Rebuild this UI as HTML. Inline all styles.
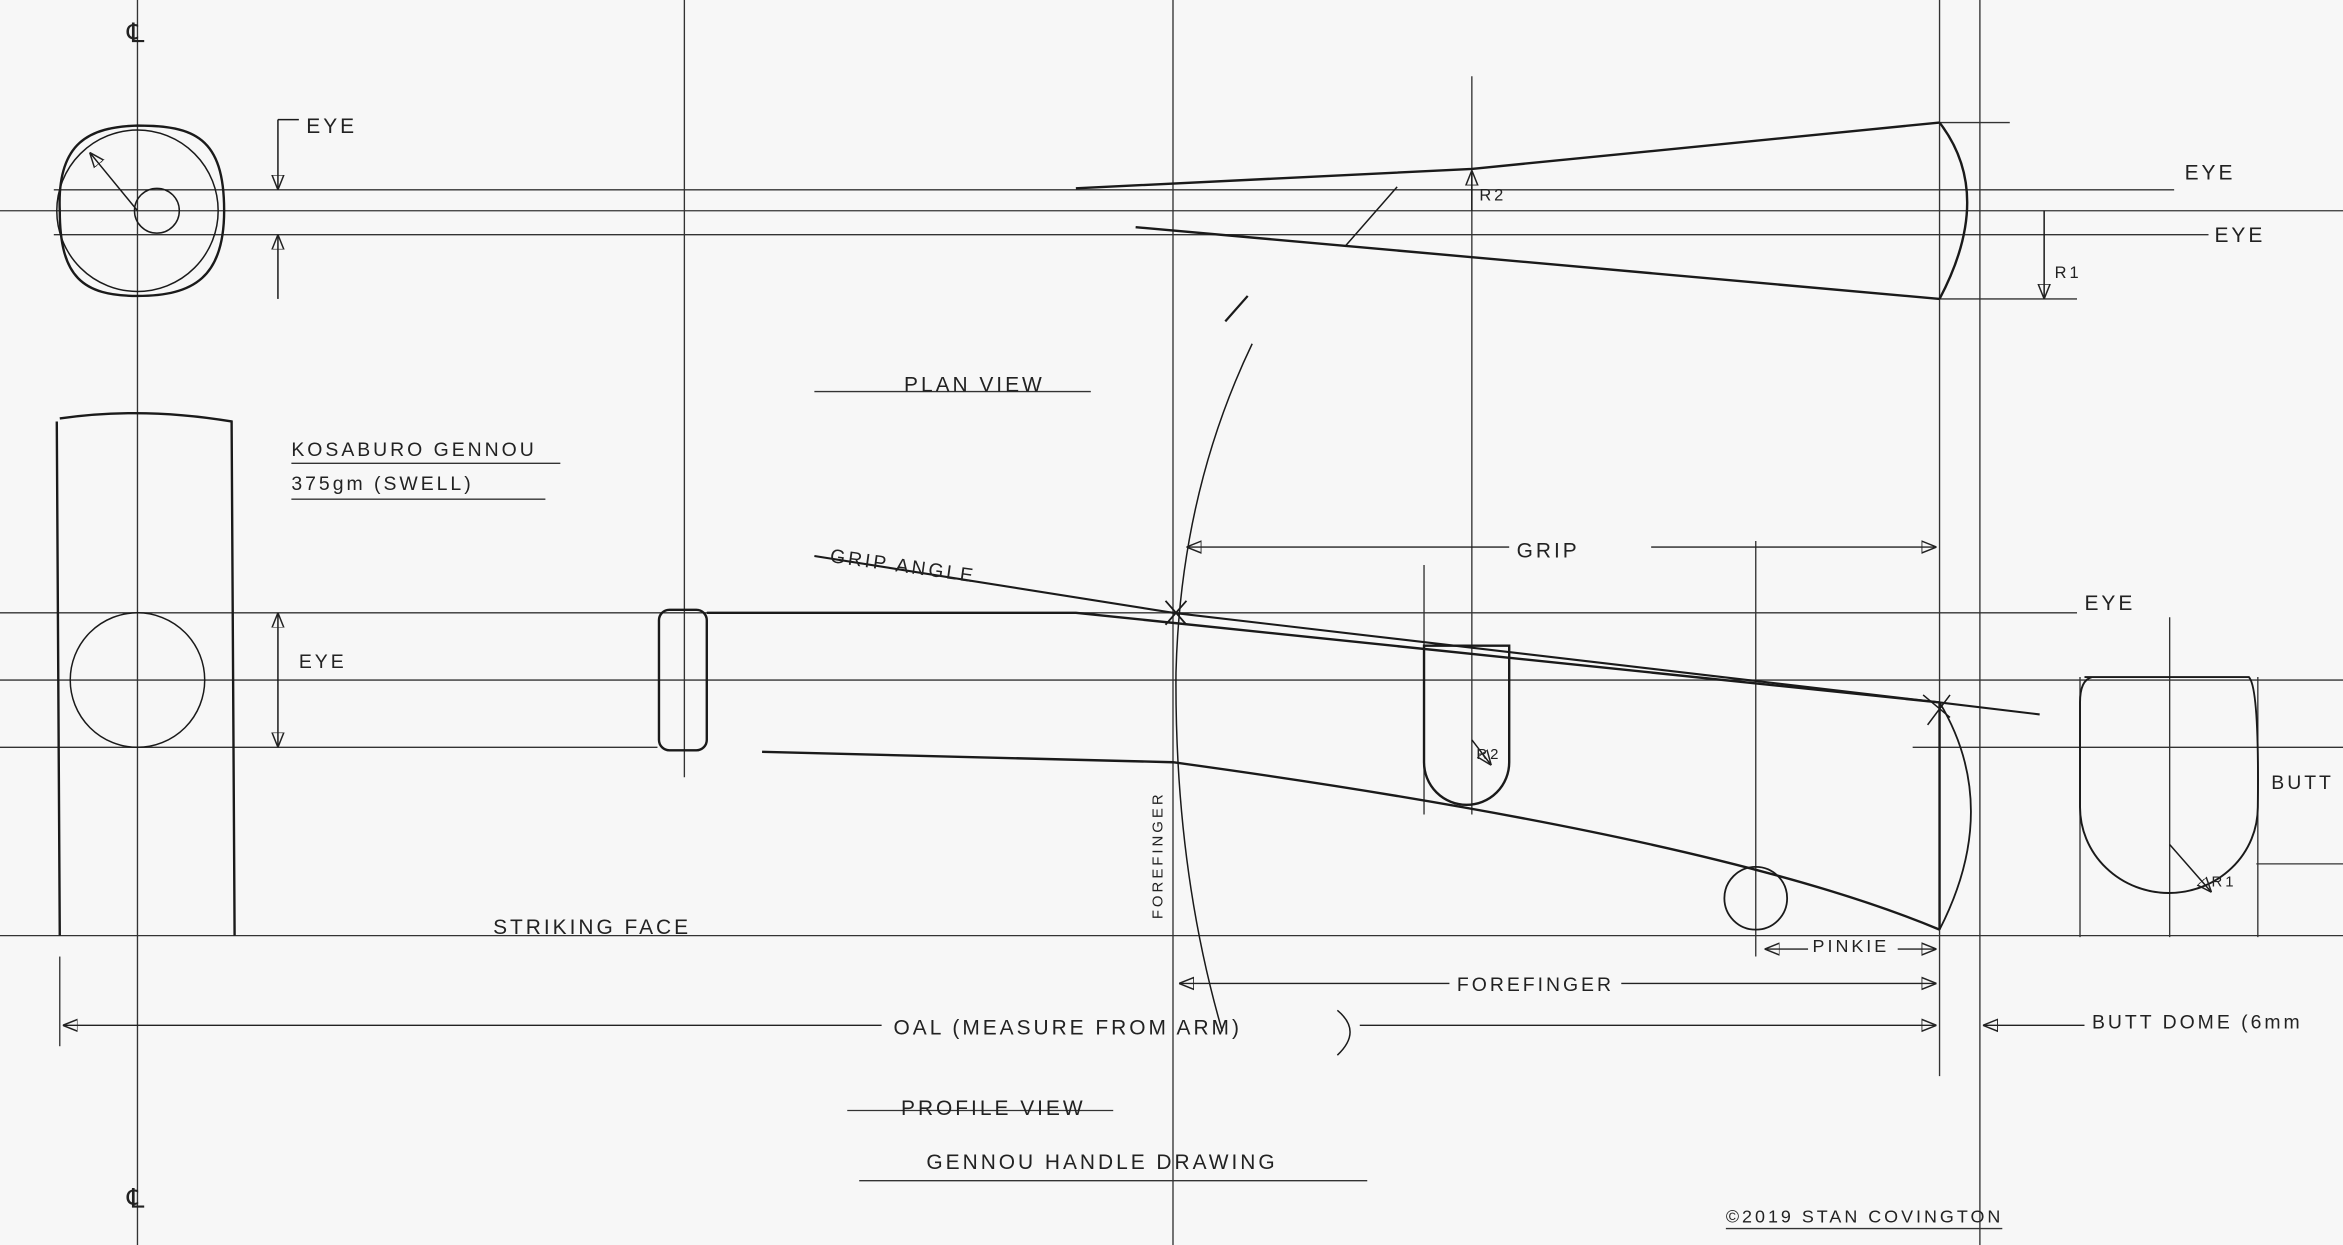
<!DOCTYPE html>
<html><head><meta charset="utf-8"><style>
html,body{margin:0;padding:0;background:#f7f7f7;}
svg{display:block}
text{font-family:"Liberation Sans",sans-serif;fill:#222;letter-spacing:2px}
</style></head><body>
<svg width="2343" height="1245" viewBox="0 0 1568 833" preserveAspectRatio="none" xmlns="http://www.w3.org/2000/svg">
<defs><marker id="a" viewBox="0 0 10 10" refX="10" refY="5" markerWidth="10" markerHeight="10" orient="auto-start-reverse" markerUnits="userSpaceOnUse"><path d="M0,1 L10,5 L0,9 Z" fill="none" stroke="#222" stroke-width="1"/></marker></defs>
<rect width="1568" height="833" fill="#f7f7f7"/>
<g stroke="#333" stroke-width="0.9" fill="none">
<!-- construction lines -->
<line x1="36" y1="127" x2="1455" y2="127"/>
<line x1="0" y1="141" x2="1568" y2="141"/>
<line x1="36" y1="157" x2="1478" y2="157"/>
<line x1="0" y1="410" x2="1390" y2="410"/>
<line x1="0" y1="455" x2="1568" y2="455"/>
<line x1="0" y1="500" x2="440" y2="500"/>
<line x1="1280" y1="500" x2="1568" y2="500"/>
<line x1="0" y1="626" x2="1568" y2="626"/>
<line x1="1510" y1="578" x2="1568" y2="578"/>
<line x1="92" y1="0" x2="92" y2="833"/>
<line x1="458" y1="0" x2="458" y2="520"/>
<line x1="785" y1="0" x2="785" y2="833"/>
<line x1="1298" y1="0" x2="1298" y2="720"/>
<line x1="1325" y1="0" x2="1325" y2="833"/>
<line x1="985" y1="51" x2="985" y2="545"/>
<line x1="953" y1="378" x2="953" y2="545"/>
<line x1="1175" y1="362" x2="1175" y2="640"/>
<line x1="1392" y1="453" x2="1392" y2="627"/>
<line x1="1511" y1="453" x2="1511" y2="627"/>
<line x1="1452" y1="413" x2="1452" y2="627"/>
<line x1="40" y1="640" x2="40" y2="700"/>
<line x1="1298" y1="82" x2="1345" y2="82"/>
<line x1="1298" y1="200" x2="1390" y2="200"/>
<line x1="545" y1="262" x2="730" y2="262"/>
<line x1="567" y1="743" x2="745" y2="743"/>
<line x1="575" y1="790" x2="915" y2="790"/>
<line x1="195" y1="310" x2="375" y2="310"/>
<line x1="195" y1="334" x2="365" y2="334"/>
<line x1="1155" y1="822" x2="1340" y2="822"/>
</g>
<g stroke="#1a1a1a" stroke-width="1.6" fill="none">
<!-- top view head -->
<path d="M40,141 C38,95 60,85 92,84 C130,84 150,92 150,141 C150,185 130,198 92,198 C55,198 40,185 40,141 Z"/>
<circle cx="92" cy="141" r="54" stroke-width="1"/>
<circle cx="105" cy="141" r="15" stroke-width="1"/>
<line x1="92" y1="141" x2="60" y2="102" stroke-width="1" marker-end="url(#a)"/>
<path d="M186,80 L186,127" stroke-width="1" marker-end="url(#a)"/><line x1="186" y1="80" x2="200" y2="80" stroke-width="1"/>
<path d="M186,200 L186,157" stroke-width="1" marker-end="url(#a)"/>
<!-- plan view handle -->
<path d="M720,126 L985,113 L1298,82"/>
<path d="M760,152 L1298,200"/>
<path d="M1298,82 Q1335,130 1298,200"/>
<line x1="900" y1="165" x2="935" y2="125" stroke-width="1"/>
<path d="M985,141 L985,114" stroke-width="1" marker-end="url(#a)"/>
<path d="M1368,141 L1368,200" stroke-width="1" marker-end="url(#a)"/>
<line x1="820" y1="215" x2="835" y2="198" stroke-width="1.5"/>
<!-- profile head -->
<path d="M40,280 Q95,272 155,282 L157,626 M38,282 L40,626"/>
<circle cx="92" cy="455" r="45" stroke-width="1"/>
<path d="M186,455 L186,410" stroke-width="1" marker-end="url(#a)"/>
<path d="M186,455 L186,500" stroke-width="1" marker-end="url(#a)"/>
<rect x="441" y="408" width="32" height="94" rx="7"/>
<!-- handle profile -->
<path d="M545,372 L785,410 L1298,470 L1365,478" stroke-width="1.4"/>
<path d="M473,410 L720,410 L1298,470"/>
<path d="M510,503 L785,510 Q1150,560 1298,622"/>
<line x1="1298" y1="470" x2="1298" y2="622"/>
<path d="M1298,470 Q1340,540 1298,622" stroke-width="1.2"/>
<path d="M780,402 L794,418 M794,402 L780,418" stroke-width="1.2"/>
<path d="M1287,465 L1305,480 M1305,465 L1290,485" stroke-width="1"/>
<path d="M953,432 L1010,432 L1010,510 A28.5,28.5 0 0 1 953,510 Z"/>
<circle cx="1175" cy="601" r="21" stroke-width="1.2"/>
<line x1="985" y1="495" x2="998" y2="512" stroke-width="1" marker-end="url(#a)"/>
<!-- butt dome -->
<path d="M1395,453 L1505,453 Q1512,460 1511,540 A59,57 0 0 1 1392,540 L1392,470 Q1392,455 1400,453" stroke-width="1.3"/>
<line x1="1452" y1="565" x2="1480" y2="597" stroke-width="1" marker-end="url(#a)"/>
<!-- forefinger arc -->
<path d="M838,230 Q790,330 787,450 Q786,580 818,690" stroke-width="1"/>
<path d="M895,676 Q912,690 895,706" stroke-width="1"/>
</g>
<g stroke="#222" stroke-width="0.9" fill="none">
<path d="M1010,366 L794,366" marker-end="url(#a)"/>
<path d="M1105,366 L1296,366" marker-end="url(#a)"/>
<path d="M970,658 L789,658" marker-end="url(#a)"/>
<path d="M1085,658 L1296,658" marker-end="url(#a)"/>
<path d="M590,686 L42,686" marker-end="url(#a)"/>
<path d="M910,686 L1296,686" marker-end="url(#a)"/>
<path d="M1395,686 L1327,686" marker-end="url(#a)"/>
<path d="M1210,635 L1181,635" marker-end="url(#a)"/>
<path d="M1270,635 L1296,635" marker-end="url(#a)"/>
</g>
<g font-size="14">
<text x="205" y="89">EYE</text>
<text x="605" y="262">PLAN VIEW</text>
<text x="195" y="305" font-size="13">KOSABURO GENNOU</text>
<text x="195" y="328" font-size="13">375gm (SWELL)</text>
<text x="555" y="376" font-size="13" transform="rotate(8 555 376)">GRIP ANGLE</text>
<text x="1015" y="373">GRIP</text>
<text x="200" y="447" font-size="13">EYE</text>
<text x="1395" y="408">EYE</text>
<text x="1462" y="120">EYE</text>
<text x="1482" y="162">EYE</text>
<text x="990" y="134" font-size="11">R2</text>
<text x="1375" y="186" font-size="11">R1</text>
<text x="988" y="508" font-size="10">R2</text>
<text x="1480" y="593" font-size="10">R1</text>
<text x="330" y="625">STRIKING FACE</text>
<text x="778" y="615" font-size="10" transform="rotate(-90 778 615)">FOREFINGER</text>
<text x="1213" y="637" font-size="12">PINKIE</text>
<text x="975" y="663" font-size="13">FOREFINGER</text>
<text x="598" y="692">OAL (MEASURE FROM ARM)</text>
<text x="1400" y="688" font-size="13">BUTT DOME (6mm</text>
<text x="1520" y="528" font-size="13">BUTT</text>
<text x="603" y="746">PROFILE VIEW</text>
<text x="620" y="782">GENNOU HANDLE DRAWING</text>
<text x="1155" y="818" font-size="12">©2019 STAN COVINGTON</text>
<text x="85" y="28" font-size="18">℄</text>
<text x="85" y="808" font-size="18">℄</text>
</g>
</svg>
</body></html>
